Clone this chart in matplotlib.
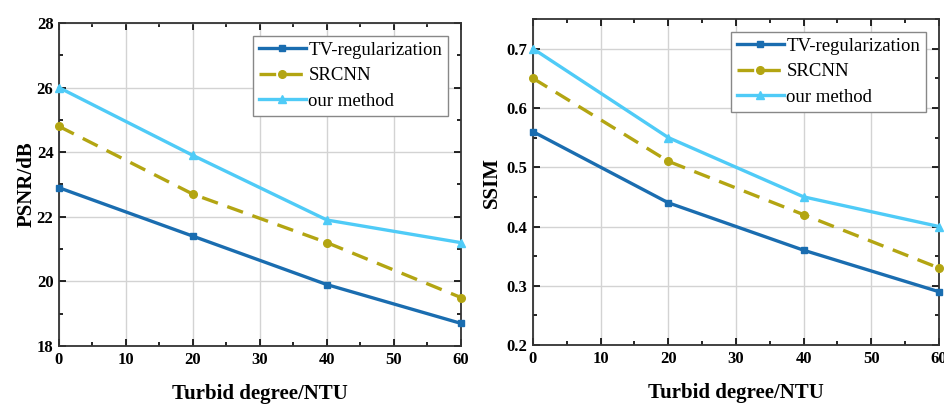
import matplotlib
matplotlib.use("Agg")
import matplotlib.pyplot as plt
from matplotlib.ticker import MultipleLocator

x = [0, 20, 40, 60]
labels = ["TV-regularization", "SRCNN", "our method"]
psnr_tv = [22.9, 21.4, 19.9, 18.7]
psnr_srcnn = [24.8, 22.7, 21.2, 19.5]
psnr_ours = [26.0, 23.9, 21.9, 21.2]
ssim_tv = [0.56, 0.44, 0.36, 0.29]
ssim_srcnn = [0.65, 0.51, 0.42, 0.33]
ssim_ours = [0.70, 0.55, 0.45, 0.40]

plt.rcParams['font.family'] = ['Liberation Serif', 'DejaVu Serif']

c_tv = "#1a6db0"
c_sr = "#b3a512"
c_our = "#4fcbf7"

fig = plt.figure(figsize=(9.45, 4.05), dpi=100)
ax1 = fig.add_axes([0.0624, 0.1457, 0.4254, 0.7975])
ax2 = fig.add_axes([0.564, 0.148, 0.4296, 0.805])

def draw(ax, tv, sr, ours, ylim, ymaj, ymin, ylabel, fmt):
    ax.plot(x, tv, color=c_tv, lw=2.4, marker='s', ms=5, label=labels[0], clip_on=False, zorder=3)
    ax.plot(x, sr, color=c_sr, lw=2.4, ls=(0, (5, 3)), marker='o', ms=5.5, label=labels[1], clip_on=False, zorder=3)
    ax.plot(x, ours, color=c_our, lw=2.4, marker='^', ms=5.5, label=labels[2], clip_on=False, zorder=3)
    ax.set_xlim(0, 60)
    ax.set_ylim(*ylim)
    ax.xaxis.set_major_locator(MultipleLocator(10))
    ax.xaxis.set_minor_locator(MultipleLocator(5))
    ax.yaxis.set_major_locator(MultipleLocator(ymaj))
    ax.yaxis.set_minor_locator(MultipleLocator(ymin))
    ax.grid(True, which='major', color='#d3d3d3', lw=1.0, zorder=0)
    ax.tick_params(which='both', direction='in', top=True, right=True, labelsize=12, width=1.2)
    ax.tick_params(which='major', length=5, pad=4)
    ax.tick_params(which='minor', length=3)
    for lab in ax.get_xticklabels() + ax.get_yticklabels():
        lab.set_fontweight('bold')
    ax.yaxis.set_major_formatter(fmt)
    for s in ax.spines.values():
        s.set_linewidth(1.3)
        s.set_color('#333333')
    ax.set_xlabel("Turbid degree/NTU", fontsize=15, fontweight='bold', labelpad=12)
    ax.set_ylabel(ylabel, fontsize=15, fontweight='bold', labelpad=0)
    leg = ax.legend(loc='upper right', fontsize=13.5, frameon=True, fancybox=False,
                    edgecolor='#888888', framealpha=1, borderpad=0.3, labelspacing=0.45,
                    handlelength=2.5, handletextpad=0.15, borderaxespad=0.7)
    leg.get_frame().set_linewidth(1.0)

draw(ax1, psnr_tv, psnr_srcnn, psnr_ours, (18, 28), 2, 1, "PSNR/dB", "{x:.0f}")
draw(ax2, ssim_tv, ssim_srcnn, ssim_ours, (0.2, 0.75), 0.1, 0.05, "SSIM", "{x:.1f}")
ax2.yaxis.labelpad = 3

fig.savefig("out.png", dpi=100)
